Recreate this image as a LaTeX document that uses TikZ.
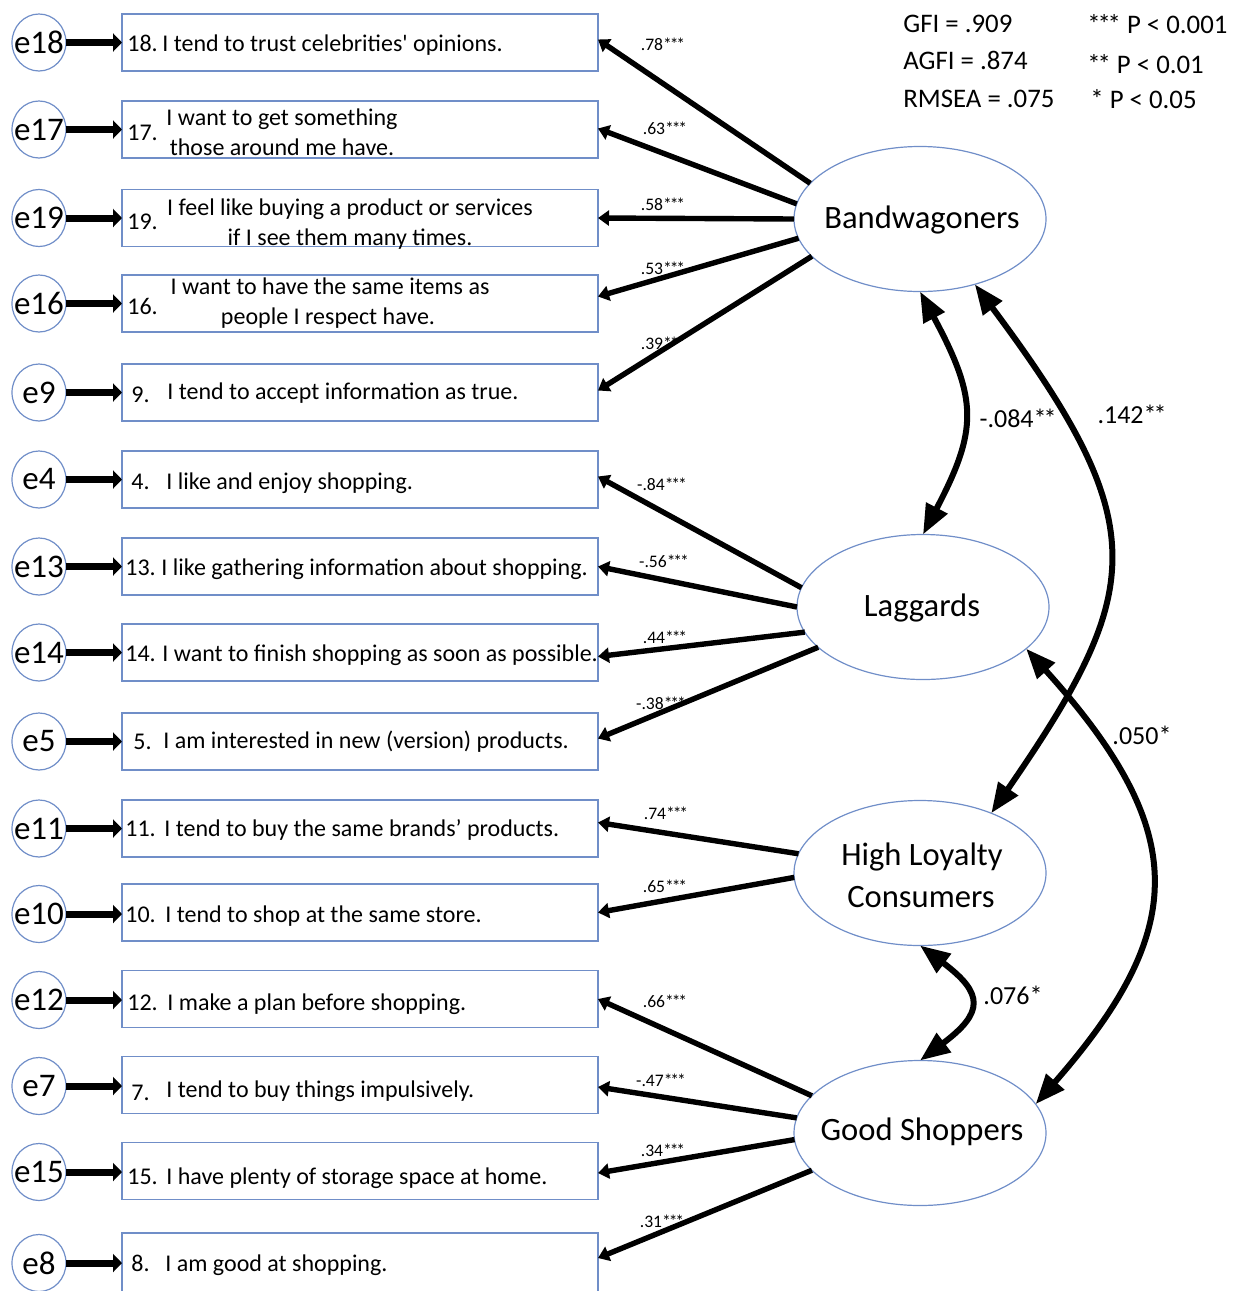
\documentclass[tikz,border=0pt]{standalone}
\usepackage{fontspec}
\setmainfont{Carlito}
\usetikzlibrary{arrows.meta,shapes.geometric}
\definecolor{edgec}{RGB}{112,142,200}
\newcommand{\sthree}{*\kern-.12em*\kern-.12em*}
\newcommand{\stwo}{*\kern-.12em*}
\begin{document}
\begin{tikzpicture}[x=0.5pt,y=-0.5pt,
  itembox/.style={draw=edgec, line width=0.6pt, minimum width=238pt, minimum height=28.5pt, inner sep=0pt, outer sep=0pt},
  latent/.style={ellipse, draw=edgec, line width=0.6pt, minimum width=126pt, minimum height=72.5pt, inner sep=0pt, outer sep=0pt},
  errc/.style={ellipse, draw=edgec, line width=0.6pt, minimum width=27pt, minimum height=28.5pt, inner sep=0pt, outer sep=0pt},
  load/.style={line width=2.7pt, -{Triangle[length=5.5pt,width=7.5pt]}},
  errarr/.style={line width=3.5pt, -{Triangle[length=4.5pt,width=9pt]}},
  cov/.style={line width=3pt, {Triangle[length=15pt,width=11.5pt]}-{Triangle[length=15pt,width=11.5pt]}},
  coef/.style={font=\fontsize{8.8pt}{10pt}\selectfont, inner sep=0pt},
  itxt/.style={font=\fontsize{12pt}{14pt}\selectfont, inner sep=0pt, anchor=base west},
  itxc/.style={font=\fontsize{12pt}{14pt}\selectfont, inner sep=0pt, anchor=base},
  elab/.style={font=\fontsize{16.5pt}{18pt}\selectfont, inner sep=0pt},
  latlab/.style={font=\fontsize{16.3pt}{21pt}\selectfont, inner sep=0pt, anchor=base},
  stat/.style={font=\fontsize{13.4pt}{16pt}\selectfont, inner sep=0pt, anchor=base west},
  covlab/.style={font=\fontsize{13pt}{15pt}\selectfont, inner sep=0pt}
]
\useasboundingbox (0,0) rectangle (1248,1291);

% ---------- item boxes ----------
\node[itembox] (B18) at (360,42.5) {};
\node[itembox] (B17) at (360,129.5) {};
\node[itembox] (B19) at (360,218) {};
\node[itembox] (B16) at (360,303.5) {};
\node[itembox] (B9)  at (360,392.5) {};
\node[itembox] (B4)  at (360,479.5) {};
\node[itembox] (B13) at (360,566.5) {};
\node[itembox] (B14) at (360,652.5) {};
\node[itembox] (B5)  at (360,741.5) {};
\node[itembox] (B11) at (360,828.5) {};
\node[itembox] (B10) at (360,912.5) {};
\node[itembox] (B12) at (360,999) {};
\node[itembox] (B7)  at (360,1085) {};
\node[itembox] (B15) at (360,1171) {};
\node[itembox, minimum height=32pt] (B8) at (360,1265) {};

% ---------- item texts ----------
\node[itxt] (n18) at (127,51) {18.};
\node[itxt] (t18) at (162,51) {I tend to trust celebrities\textquotesingle{} opinions.};
\node[itxt] (n17) at (127,140) {17.};
\node[itxc] (t17a) at (282,125) {I want to get something};
\node[itxc] (t17b) at (282,155) {those around me have.};
\node[itxt] (n19) at (127,229) {19.};
\node[itxc] (t19a) at (350,215) {I feel like buying a product or services};
\node[itxc] (t19b) at (350,245) {if I see them many times.};
\node[itxt] (n16) at (127,314) {16.};
\node[itxc] (t16a) at (330,294) {I want to have the same items as};
\node[itxc] (t16b) at (328,324) {people I respect have.};
\node[itxt] (n9) at (131,402) {9.};
\node[itxt] (t9) at (167,399) {I tend to accept information as true.};
\node[itxt] (n4) at (131,489) {4.};
\node[itxt] (t4) at (166,489) {I like and enjoy shopping.};
\node[itxt] (n13) at (125,575) {13.};
\node[itxt] (t13) at (161,575) {I like gathering information about shopping.};
\node[itxt] (n14) at (125,661) {14.};
\node[itxt] (t14) at (162,661) {I want to finish shopping as soon as possible.};
\node[itxt] (n5) at (133,749) {5.};
\node[itxt] (t5) at (163,748) {I am interested in new (version) products.};
\node[itxt] (n11) at (125,836) {11.};
\node[itxt] (t11) at (164,836) {I tend to buy the same brands’ products.};
\node[itxt] (n10) at (125,922) {10.};
\node[itxt] (t10) at (165,922) {I tend to shop at the same store.};
\node[itxt] (n12) at (127,1010) {12.};
\node[itxt] (t12) at (167,1010) {I make a plan before shopping.};
\node[itxt] (n7) at (131,1100) {7.};
\node[itxt] (t7) at (166,1097) {I tend to buy things impulsively.};
\node[itxt] (n15) at (127,1184) {15.};
\node[itxt] (t15) at (166,1184) {I have plenty of storage space at home.};
\node[itxt] (n8) at (131,1271) {8.};
\node[itxt] (t8) at (165,1271) {I am good at shopping.};

% ---------- error terms ----------
\foreach \nm/\yy in {18/42.5,17/129.5,19/218,16/303.5,9/392.5,4/479.5,13/566.5,14/652.5,5/741.5,11/828.5,10/914,12/1000,7/1086,15/1172,8/1263}{
  \node[errc] (e\nm) at (39,\yy) {};
  \node[elab] (el\nm) at (39,\yy) {e\nm};
}
\draw[errarr] (e18) -- (B18.west);
\draw[errarr] (e17) -- (B17.west);
\draw[errarr] (e19) -- (B19.west);
\draw[errarr] (e16) -- (B16.west);
\draw[errarr] (e9)  -- (B9.west);
\draw[errarr] (e4)  -- (B4.west);
\draw[errarr] (e13) -- (B13.west);
\draw[errarr] (e14) -- (B14.west);
\draw[errarr] (e5)  -- (B5.west);
\draw[errarr] (e11) -- (B11.west);
\draw[errarr] (e10) -- (B10.west |- e10);
\draw[errarr] (e12) -- (B12.west |- e12);
\draw[errarr] (e7)  -- (B7.west |- e7);
\draw[errarr] (e15) -- (B15.west |- e15);
\draw[errarr] (e8)  -- (B8.west |- e8);

% ---------- latent variables ----------
\node[latent] (BW)  at (920,219) {};
\node[latent] (LG)  at (923,607) {};
\node[latent] (HLC) at (920,873) {};
\node[latent] (GS)  at (920,1133) {};
\node[latlab] (BWt) at (922,228) {Bandwagoners};
\node[latlab] (LGt) at (922,616) {Laggards};
\node[latlab] (HLCt1) at (922,865) {High Loyalty};
\node[latlab] (HLCt2) at (921,907) {Consumers};
\node[latlab] (GSt) at (922,1140) {Good Shoppers};

% ---------- loadings ----------
\draw[load] (BW.162) -- ([yshift=1.5pt]B18.east);
\draw[load] (BW.173) -- ([yshift=0.5pt]B17.east);
\draw[load] (BW.180) -- (B19.east);
\draw[load] (BW.189) -- ([yshift=3.5pt]B16.east);
\draw[load] (BW.199) -- ([yshift=1pt]B9.east);
\draw[load] (LG.171) -- ([yshift=1.5pt]B4.east);
\draw[load] (LG.180) -- (B13.east);
\draw[load] (LG.192) -- ([yshift=-2pt]B14.east);
\draw[load] (LG.201) -- ([yshift=1.5pt]B5.east);
\draw[load] (HLC.171) -- ([yshift=3pt]B11.east);
\draw[load] (HLC.182) -- (B10.east);
\draw[load] (GS.161) -- (B12.east);
\draw[load] (GS.173) -- ([yshift=-1pt]B7.east);
\draw[load] (GS.183) -- ([yshift=-1pt]B15.east);
\draw[load] (GS.199) -- ([yshift=3.5pt]B8.east);

\node[coef] (c18) at (663,44) {.78\sthree};
\node[coef] (c17) at (665,128) {.63\sthree};
\node[coef] (c19) at (663,204) {.58\sthree};
\node[coef] (c16) at (663,268) {.53\sthree};
\node[coef] (c9)  at (663,343) {.39\sthree};
\node[coef] (c4)  at (662,484) {-.84\sthree};
\node[coef] (c13) at (664,561) {-.56\sthree};
\node[coef] (c14) at (665,637) {.44\sthree};
\node[coef] (c5)  at (661,703) {-.38\sthree};
\node[coef] (c11) at (666,813) {.74\sthree};
\node[coef] (c10) at (665,886) {.65\sthree};
\node[coef] (c12) at (665,1001) {.66\sthree};
\node[coef] (c7)  at (661,1080) {-.47\sthree};
\node[coef] (c15) at (663,1150) {.34\sthree};
\node[coef] (c8)  at (662,1221) {.31\sthree};

% ---------- covariances ----------
\draw[cov] (BW.south) .. controls +(58,108) and +(55,-105) .. (LG.north);
\draw[cov] (BW.310) .. controls +(180,241) and +(154,-223.5) .. (HLC.40);
\draw[cov] (LG.338) .. controls +(164,182) and +(154,-176) .. (GS.14);
\draw[cov] (HLC.south) .. controls +(64,48) and +(64,-48) .. (GS.north);
\node[covlab] (k1) at (1018,418) {-.084\stwo};
\node[covlab] (k2) at (1132,414) {.142\stwo};
\node[covlab] (k3) at (1142,735) {.050*};
\node[covlab] (k4) at (1013,995) {.076*};

% ---------- fit statistics ----------
\node[stat] (s1) at (903,32) {GFI = .909};
\node[stat] (s2) at (903,69) {AGFI = .874};
\node[stat] (s3) at (903,107) {RMSEA = .075};
\node[stat] (p1) at (1087,33) {\sthree{} P < 0.001};
\node[stat] (p2) at (1087,73) {\stwo{} P < 0.01};
\node[stat] (p3) at (1090,108) {* P < 0.05};
\end{tikzpicture}
\end{document}
